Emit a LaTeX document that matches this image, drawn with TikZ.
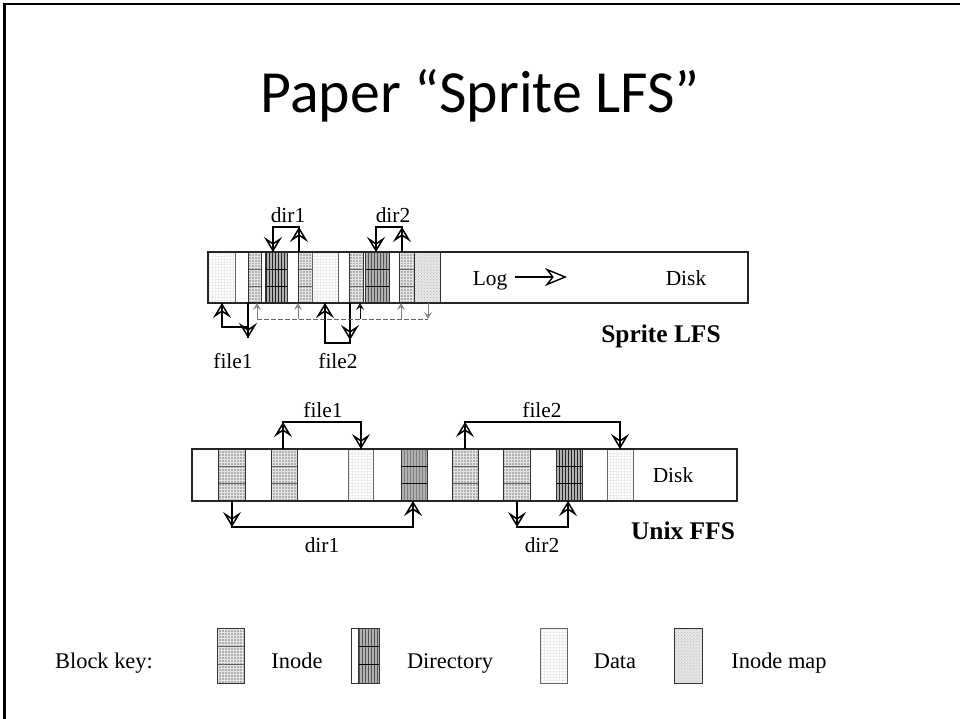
\documentclass[tikz,border=0pt]{standalone}
\usepackage{fontspec}
\setmainfont{Liberation Serif}
\newfontfamily\titlefont{Carlito}
\usetikzlibrary{arrows.meta,patterns}
\tikzset{
  bar/.style={draw=black!85, line width=1.1bp},
  blkedge/.style={draw=black!80, line width=0.7bp},
  conn/.style={line width=1.5bp},
  bigtip/.style={-{Stealth[open,length=15bp,width=18bp,inset=6bp,line width=1.5bp]}, line width=1.5bp},
  smalltip/.style={-{Stealth[open,length=7bp,width=8bp,inset=3bp,line width=0.9bp]}, line width=0.9bp},
  mapline/.style={gray!80!black, dashed, dash pattern=on 4.5bp off 2.5bp, line width=0.9bp},
  lbl/.style={font=\fontsize{21.5}{24}\selectfont, anchor=base, inner sep=0pt},
  keylbl/.style={font=\fontsize{22.5}{25}\selectfont, anchor=base, inner sep=0pt},
  boldlbl/.style={font=\bfseries\fontsize{25.5}{28}\selectfont, anchor=base, inner sep=0pt},
}
\newcommand{\pinode}[4]{%
  \fill[gray!62] (#1,#2) rectangle (#3,#4);
  \fill[pattern=grid, pattern color=gray!22] (#1,#2) rectangle (#3,#4);
  \draw[gray!75!black, line width=0.35bp] (#1,{#2+(#4-#2)/3}) -- (#3,{#2+(#4-#2)/3})
    (#1,{#2+2*(#4-#2)/3}) -- (#3,{#2+2*(#4-#2)/3});
  \draw[blkedge] (#1,#2) rectangle (#3,#4);}
\newcommand{\pdir}[4]{%
  \fill[gray!62] (#1,#2) rectangle (#3,#4);
  \fill[pattern=vertical lines, pattern color=black!85] (#1,#2) rectangle (#3,#4);
  \draw[black, line width=0.5bp] (#1,{#2+(#4-#2)/3}) -- (#3,{#2+(#4-#2)/3})
    (#1,{#2+2*(#4-#2)/3}) -- (#3,{#2+2*(#4-#2)/3});
  \draw[blkedge] (#1,#2) rectangle (#3,#4);}
\newcommand{\pdata}[4]{%
  \fill[white] (#1,#2) rectangle (#3,#4);
  \fill[pattern=grid, pattern color=gray!15] (#1,#2) rectangle (#3,#4);
  \draw[blkedge, draw=black!60] (#1,#2) rectangle (#3,#4);}
\newcommand{\pimap}[4]{%
  \fill[gray!18] (#1,#2) rectangle (#3,#4);
  \fill[pattern=crosshatch dots, pattern color=gray!60] (#1,#2) rectangle (#3,#4);
  \draw[blkedge] (#1,#2) rectangle (#3,#4);}
\begin{document}
\begin{tikzpicture}[x=1bp,y=-1bp]
\useasboundingbox (0,0) rectangle (960,719);
\fill[white] (0,0) rectangle (960,719);
\draw[line width=2.4bp] (4.3,719) -- (4.3,4.3) -- (960,4.3);

% title
\node[anchor=base, inner sep=0pt, font=\titlefont\fontsize{60}{70}\selectfont] (title) at (480,113) {Paper “Sprite LFS”};

% ---------------- Sprite LFS ----------------
\draw[bar] (208,252) rectangle (748,303);
\pdata{208}{252}{235}{303}
\pinode{248}{252}{261}{303}
\draw[blkedge] (261,252) rectangle (287,303);
\pdir{265}{252}{287}{303}
\pinode{298}{252}{312}{303}
\pdata{312}{252}{338}{303}
\pinode{349}{252}{363}{303}
\pdir{365}{252}{389}{303}
\pinode{399}{252}{414}{303}
\pimap{414}{252}{440}{303}
\draw[bar] (208,252) rectangle (748,303);

\node[lbl] (log) at (490,285) {Log};
\coordinate (logs) at (515,277);
\coordinate (loge) at (567,277);
\draw[-{Stealth[open,length=22bp,width=18bp,inset=7bp,line width=1.4bp]}, line width=1.4bp] (logs) -- (loge);
\node[lbl] (disk1) at (686,285) {Disk};
\node[boldlbl] (lfs) at (661,342) {Sprite LFS};

% dir1
\coordinate (d1s) at (299,252); \coordinate (d1u) at (299,227);
\coordinate (d1c) at (273,227); \coordinate (d1e) at (273,252);
\draw[conn] (d1s) -- (d1u) -- (d1c) -- (d1e);
\draw[bigtip] (d1s) -- (d1u);
\draw[bigtip] (d1c) -- (d1e);
\node[lbl] (ldir1) at (288,222) {dir1};
% dir2
\coordinate (d2s) at (402,252); \coordinate (d2u) at (402,227);
\coordinate (d2c) at (376,227); \coordinate (d2e) at (376,252);
\draw[conn] (d2s) -- (d2u) -- (d2c) -- (d2e);
\draw[bigtip] (d2s) -- (d2u);
\draw[bigtip] (d2c) -- (d2e);
\node[lbl] (ldir2) at (393,222) {dir2};
% file1
\coordinate (f1s) at (222,327); \coordinate (f1u) at (222,303);
\coordinate (f1c) at (248,327); \coordinate (f1d) at (248,303); \coordinate (f1e) at (248,338);
\draw[conn] (f1u) -- (f1s) -- (f1c);
\draw[conn] (f1d) -- (f1e);
\draw[bigtip] (f1s) -- (f1u);
\draw[bigtip] (f1d) -- (f1e);
\node[lbl] (lfile1) at (233,368) {file1};
% file2
\coordinate (f2s) at (325,343); \coordinate (f2u) at (325,303);
\coordinate (f2c) at (350,343); \coordinate (f2d) at (350,303); \coordinate (f2e) at (350,340);
\draw[conn] (f2u) -- (f2s) -- (f2c) -- (f2d);
\draw[bigtip] (f2s) -- (f2u);
\draw[bigtip] (f2d) -- (f2e);
\node[lbl] (lfile2) at (338,368) {file2};
% inode map pointers (dashed)
\coordinate (m0) at (257,319); \coordinate (m0t) at (257,303);
\coordinate (m1) at (298,319); \coordinate (m1t) at (298,303);
\coordinate (m2) at (360,319); \coordinate (m2t) at (360,303);
\coordinate (m3) at (401,319); \coordinate (m3t) at (401,303);
\coordinate (m4) at (428,319); \coordinate (m4t) at (428,303);
\draw[mapline] (m0) -- (m4);
\draw[smalltip, gray] (m0) -- (m0t);
\draw[smalltip, gray] (m1) -- (m1t);
\draw[smalltip, black] (m2) -- (m2t);
\draw[smalltip, gray] (m3) -- (m3t);
\draw[smalltip, gray] (m4t) -- (m4);

% ---------------- Unix FFS ----------------
\draw[bar] (192,449) rectangle (737,501);
\pinode{218}{449}{245}{501}
\pinode{271}{449}{297}{501}
\pdata{348}{449}{373}{501}
\pdir{401}{449}{427}{501}
\pinode{452}{449}{478}{501}
\pinode{503}{449}{530}{501}
\pdir{556}{449}{582}{501}
\pdata{607}{449}{633}{501}
\draw[bar] (192,449) rectangle (737,501);
\node[lbl] (disk2) at (673,482) {Disk};
\node[boldlbl] (ffs) at (683,539) {Unix FFS};

% file1
\coordinate (g1s) at (283,449); \coordinate (g1u) at (283,422);
\coordinate (g1c) at (361,422); \coordinate (g1e) at (361,449);
\draw[conn] (g1s) -- (g1u) -- (g1c) -- (g1e);
\draw[bigtip] (g1s) -- (g1u);
\draw[bigtip] (g1c) -- (g1e);
\node[lbl] (gfile1) at (323,417) {file1};
% file2
\coordinate (g2s) at (465,449); \coordinate (g2u) at (465,422);
\coordinate (g2c) at (620,422); \coordinate (g2e) at (620,449);
\draw[conn] (g2s) -- (g2u) -- (g2c) -- (g2e);
\draw[bigtip] (g2s) -- (g2u);
\draw[bigtip] (g2c) -- (g2e);
\node[lbl] (gfile2) at (542,417) {file2};
% dir1
\coordinate (h1s) at (232,501); \coordinate (h1d) at (232,527);
\coordinate (h1c) at (413,527); \coordinate (h1e) at (413,501);
\draw[conn] (h1s) -- (h1d) -- (h1c) -- (h1e);
\draw[bigtip] (h1s) -- (h1d);
\draw[bigtip] (h1c) -- (h1e);
\node[lbl] (gdir1) at (322,552) {dir1};
% dir2
\coordinate (h2s) at (517,501); \coordinate (h2d) at (517,527);
\coordinate (h2c) at (568,527); \coordinate (h2e) at (568,501);
\draw[conn] (h2s) -- (h2d) -- (h2c) -- (h2e);
\draw[bigtip] (h2s) -- (h2d);
\draw[bigtip] (h2c) -- (h2e);
\node[lbl] (gdir2) at (542,552) {dir2};

% ---------------- Block key ----------------
\node[keylbl] (bkey) at (104,668) {Block key:};
\pinode{217}{628}{244}{683}
\node[keylbl] (kinode) at (297,668) {Inode};
\draw[blkedge] (351,628) rectangle (379,683);
\pdir{358}{628}{379}{683}
\draw[blkedge] (351,628) rectangle (379,683);
\node[keylbl] (kdir) at (450,668) {Directory};
\pdata{540}{628}{567}{683}
\node[keylbl] (kdata) at (615,668) {Data};
\pimap{674}{628}{702}{683}
\node[keylbl] (kimap) at (779,668) {Inode map};
\end{tikzpicture}
\end{document}
